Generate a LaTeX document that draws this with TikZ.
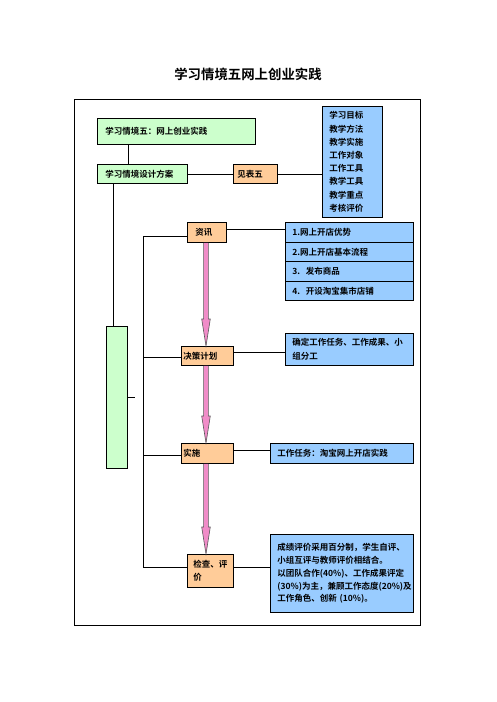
\documentclass[tikz,border=0pt]{standalone}
\usepackage{fontspec}
\newfontfamily\cjk{Noto Sans CJK SC}[BoldFont={Noto Sans CJK SC Bold}]
\usetikzlibrary{calc}
\definecolor{grn}{HTML}{CCFFCC}
\definecolor{org}{HTML}{FFCC99}
\definecolor{blu}{HTML}{99CCFF}
\definecolor{pnk}{HTML}{F08CC8}
\newcommand\pinkarrow[2]{%
  \filldraw[parrow] ($(#1.south -| ax)+(-2.4,0)$) -- ($(#2.north -| ax)+(-2.4,-27)$) -- ($(#2.north -| ax)+(-4.3,-27)$) -- (#2.north -| ax) -- ($(#2.north -| ax)+(4.3,-27)$) -- ($(#2.north -| ax)+(2.4,-27)$) -- ($(#1.south -| ax)+(2.4,0)$);}
\begin{document}
\begin{tikzpicture}[x=1pt,y=-1pt,
  bx/.style={draw, line width=0.8pt, anchor=north west, align=left, inner ysep=0pt,
    font=\cjk\bfseries\fontsize{8.5}{13.2}\selectfont},
  ln/.style={line width=0.8pt},
  parrow/.style={fill=pnk, draw=black!65, line width=0.6pt, line join=miter}]
\useasboundingbox (0,0) rectangle (496,702);
\fill[white] (0,0) rectangle (496,702);

\node[font=\cjk\bfseries\fontsize{13.4}{16}\selectfont] (title) at (248,74) {学习情境五网上创业实践};
\node[draw, line width=0.8pt, anchor=north west, minimum width=346, minimum height=526, inner sep=0pt] (frame) at (74,99) {};

\node[bx, fill=grn, inner xsep=8, text width=142, minimum height=26] (b1) at (97,118) {学习情境五：网上创业实践};
\node[bx, fill=grn, inner xsep=8, text width=74, minimum height=19] (b2) at (97,164) {学习情境设计方案};
\node[bx, fill=org, inner xsep=4, text width=36, minimum height=19] (jb) at (233,164) {见表五};
\node[bx, fill=blu, inner xsep=7, text width=46, minimum height=111] (obj) at (322,106) {学习目标\\教学方法\\教学实施\\工作对象\\工作工具\\教学工具\\教学重点\\考核评价};
\node[bx, fill=grn, minimum width=21, minimum height=142, inner sep=0pt] (tall) at (106,326) {};

\node[bx, fill=org, inner xsep=8, text width=23, minimum height=20] (zx) at (187,222) {资讯};
\node[bx, fill=blu, inner xsep=7, text width=114, minimum height=20] (l1) at (285,222) {1.网上开店优势};
\node[bx, fill=blu, inner xsep=7, text width=114, minimum height=19] (l2) at (285,242) {2.网上开店基本流程};
\node[bx, fill=blu, inner xsep=7, text width=114, minimum height=20] (l3) at (285,261) {3.~~发布商品};
\node[bx, fill=blu, inner xsep=7, text width=114, minimum height=19] (l4) at (285,281) {4.~~开设淘宝集市店铺};

\node[bx, fill=org, inner xsep=2, text width=48, minimum height=19] (jc) at (181,346) {决策计划};
\node[bx, fill=blu, inner xsep=7, text width=114, minimum height=32, font=\cjk\bfseries\fontsize{8.5}{14}\selectfont] (jcd) at (285,333) {确定工作任务、工作成果、小\\组分工};

\node[bx, fill=org, inner xsep=2, text width=48, minimum height=20] (ss) at (181,443) {实施};
\node[bx, fill=blu, inner xsep=7, text width=129, minimum height=20] (ssd) at (270,443) {工作任务：淘宝网上开店实践};

\node[bx, fill=org, inner xsep=6, text width=34, minimum height=33, font=\cjk\bfseries\fontsize{8.5}{12.5}\selectfont] (jp) at (187,554) {检查、评\\价};
\node[bx, fill=blu, inner xsep=7, text width=129, minimum height=78, font=\cjk\bfseries\fontsize{8.5}{12.8}\selectfont] (jpd) at (270,534) {成绩评价采用百分制，学生自评、\\小组互评与教师评价相结合。\\以团队合作(40\%)、工作成果评定\\(30\%)为主，兼顾工作态度(20\%)及\\工作角色、创新 (10\%)。};

% connectors
\coordinate (v1) at (128,0);
\draw[ln] (b1.south -| v1) -- (b2.north -| v1);
\draw[ln] (b2.east) -- (jb.west);
\draw[ln] (jb.east) -- (jb.east -| obj.west);
\coordinate (v2) at (113,0);
\draw[ln] (b2.south -| v2) -- (tall.north -| v2);
\coordinate (stub) at (135,397);
\draw[ln] (tall.east |- stub) -- (stub);

\coordinate (t1) at (143,236);
\coordinate (t2) at (143,357);
\coordinate (t3) at (143,455);
\coordinate (t4) at (143,567);
\draw[ln] (t1) -- (t4);
\draw[ln] (t1) -- (t1 -| zx.west);
\draw[ln] (t2) -- (t2 -| jc.west);
\draw[ln] (t3) -- (t3 -| ss.west);
\draw[ln] (t4) -- (t4 -| jp.west);

\coordinate (r1) at (0,229);
\coordinate (r2) at (0,352);
\coordinate (r3) at (0,450);
\coordinate (r4) at (0,567);
\draw[ln] (zx.east |- r1) -- (l1.west |- r1);
\draw[ln] (jc.east |- r2) -- (jcd.west |- r2);
\draw[ln] (ss.east |- r3) -- (ssd.west |- r3);
\draw[ln] (jp.east |- r4) -- (jpd.west |- r4);

\coordinate (ax) at (206,0);
\pinkarrow{zx}{jc}
\pinkarrow{jc}{ss}
\pinkarrow{ss}{jp}
\end{tikzpicture}
\end{document}
